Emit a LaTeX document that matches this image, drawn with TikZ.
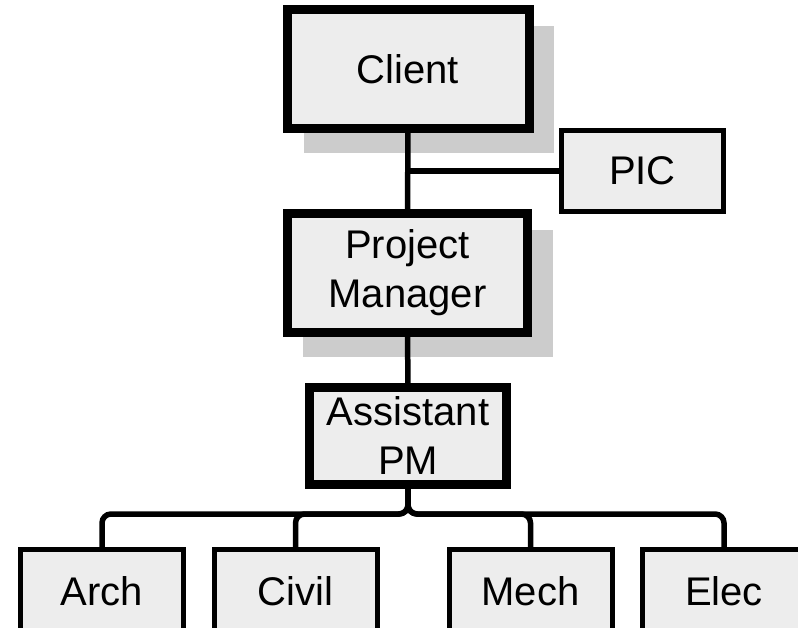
\documentclass[tikz,border=0pt]{standalone}
\usepackage{fontspec}
\setmainfont{Liberation Sans}
\usetikzlibrary{backgrounds}
\definecolor{boxfill}{HTML}{EDEDED}
\definecolor{shade}{HTML}{CCCCCC}
\tikzset{
  orgbox/.style={draw=black, fill=boxfill, rectangle, inner sep=0pt, outer sep=0pt,
    align=center, font=\fontsize{40}{49}\selectfont},
  heavybox/.style={orgbox, line width=9pt},
  lightbox/.style={orgbox, line width=5pt},
  unitbox/.style={lightbox, minimum width=163pt, minimum height=84pt},
  conn/.style={draw=black, line width=5.5pt},
  bus/.style={conn, rounded corners=9pt},
  shadowfill/.style={fill=shade}
}
\begin{document}
\begin{tikzpicture}[x=1pt, y=-1pt]
  \useasboundingbox (0,0) rectangle (798,628);
  \clip (0,0) rectangle (798,628);

  % top of the chart
  \node[heavybox, minimum width=242pt, minimum height=119pt] (client) at (408,69.5) {Client};
  \node[lightbox, minimum width=162pt, minimum height=81pt] (pic) at (642.5,171) {PIC};
  \node[heavybox, minimum width=240pt, minimum height=119pt] (pm) at (407.5,273) {Project\\Manager};
  \node[heavybox, minimum width=197pt, minimum height=97pt] (apm) at (408,436) {Assistant\\PM};

  % discipline leads
  \node[unitbox] (arch)  at (102,591)   {Arch};
  \node[unitbox] (civil) at (295.5,591) {Civil};
  \node[unitbox] (mech)  at (530.5,591) {Mech};
  \node[unitbox] (elec)  at (724,591)   {Elec};

  % offset shadows behind the two main boxes
  \begin{scope}[on background layer]
    \fill[shadowfill] ([shift={(16.5,16)}]client.north west) rectangle ([shift={(24.5,24)}]client.south east);
    \fill[shadowfill] ([shift={(15.5,16.5)}]pm.north west) rectangle ([shift={(25.5,24.5)}]pm.south east);
  \end{scope}

  % reporting lines
  \coordinate (tee) at (client.south |- pic.west);
  \coordinate (split) at (408,514);
  \begin{scope}[on background layer]
    \draw[conn] (client.south) -- (pm.north);
    \draw[conn] (tee) -- (pic.west);
    \draw[conn] (pm.south) -- (apm.north);
    \draw[bus] (apm.south) -- (split) -| (arch.north);
    \draw[bus] (apm.south) -- (split) -| (civil.north);
    \draw[bus] (apm.south) -- (split) -| (mech.north);
    \draw[bus] (apm.south) -- (split) -| (elec.north);
  \end{scope}
\end{tikzpicture}
\end{document}
